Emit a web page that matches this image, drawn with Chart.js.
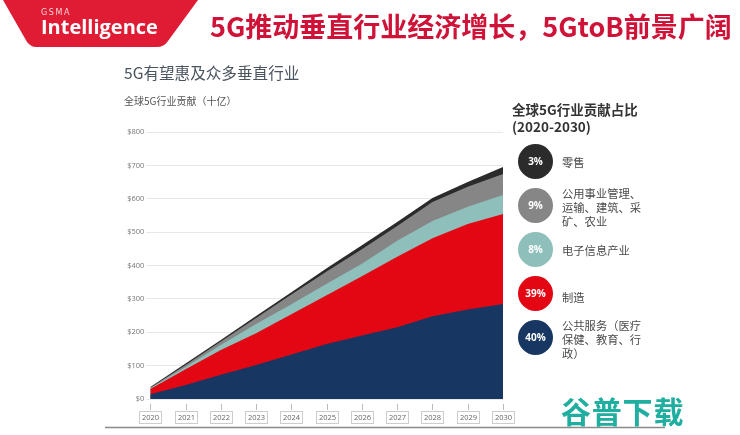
<!DOCTYPE html>
<html><head><meta charset="utf-8">
<script src="https://cdn.jsdelivr.net/npm/chart.js@4/dist/chart.umd.min.js"></script>
<style>
html,body{margin:0;padding:0;background:#fff;width:740px;height:435px;overflow:hidden}
body{font-family:"Noto Sans CJK SC","Noto Sans",sans-serif;position:relative}
canvas{position:absolute;left:0;top:0}
.t{position:absolute;white-space:nowrap}
.c{position:absolute;left:518px;width:35px;height:35px;border-radius:50%;color:#fff;font:bold 10px "Open Sans",sans-serif;text-align:center;line-height:35px}
.l{position:absolute;left:562px;width:92px;font-size:11.3px;line-height:14px;color:#4a4a4a;white-space:pre-line}
</style></head><body>
<canvas id="c" width="740" height="435"></canvas>
<svg style="position:absolute;left:0;top:0" width="210" height="50"><path d="M3 0H198L168 41Q164 47 157 47H36Q31 47 27 42Z" fill="#e01b34"/></svg>
<div class="t" style="left:41px;top:8px;font:8px 'DejaVu Sans',sans-serif;color:#f6d5d8;letter-spacing:1.6px">GSMA</div>
<div class="t" style="left:41px;top:13px;font:bold 20px 'Open Sans',sans-serif;color:#fff">Intelligence</div>
<div class="t" style="left:210px;top:9px;font:bold 27px/34px 'Noto Sans CJK SC';color:#cf1237">5G推动垂直行业经济增长，5GtoB前景广阔</div>
<div class="t" style="left:124px;top:62px;font-size:15.6px;line-height:20px;color:#4b5560">5G有望惠及众多垂直行业</div>
<div class="t" style="left:124px;top:94px;font-size:10px;line-height:14px;color:#555">全球5G行业贡献（十亿）</div>
<div class="t" style="left:512px;top:101px;font-weight:bold;font-size:13.5px;line-height:17px;color:#333">全球5G行业贡献占比<br>(2020-2030)</div>
<div id="lg"></div>
<div class="t" style="left:561px;top:392px;font:bold 30px/36px 'Noto Sans CJK SC';color:#1fae9f;letter-spacing:.8px">谷普下载</div>
<script>
const years = ['2020','2021','2022','2023','2024','2025','2026','2027','2028','2029','2030'];
const yTicks = [0,100,200,300,400,500,600,700,800];
const publicServices = [14,42,73,102,133,165,190,215,248,268,285];
const manufacturing  = [16,47,74,95,121,146,178,211,234,256,269];
const electronics    = [2,7,15,28,30,34,37,48,51,52,57];
const utilities      = [2,6,10,18,29,37,44,44,57,60,63];
const retail         = [2,4,5,6,7,10,12,12,12,14,21];
const shareLabels = ['3%','9%','8%','39%','40%'];
const shareNames = ['零售','公用事业管理、\n运输、建筑、采\n矿、农业','电子信息产业','制造','公共服务（医疗\n保健、教育、行\n政）'];
const shareColors = ['#2b2b2b','#868686','#8fbfba','#e30613','#173762'];
const circleTops = [144,188,232,276,320];
const labelTops = [155,186,243,290,318];

const lg = document.getElementById('lg');
shareLabels.forEach((s,i)=>{
  const c=document.createElement('div');c.className='c';c.textContent=s;
  c.style.top=circleTops[i]+'px';c.style.background=shareColors[i];lg.appendChild(c);
  const l=document.createElement('div');l.className='l';l.textContent=shareNames[i];
  l.style.top=labelTops[i]+'px';lg.appendChild(l);
});
const mk=(label,data,color)=>({label,data,backgroundColor:color,borderColor:color,borderWidth:0,fill:true,pointRadius:0,tension:0});
const decor={id:'decor',afterDraw(ch){
  const g=ch.ctx,x=ch.scales.x,b=ch.chartArea.bottom;
  g.save();
  g.font='7.5px "Open Sans",sans-serif';g.textAlign='center';g.textBaseline='middle';
  years.forEach((y,i)=>{
    const p=Math.round(x.getPixelForValue(i));
    g.strokeStyle='#bbb';g.lineWidth=1;
    g.beginPath();g.moveTo(p+.5,b+5);g.lineTo(p+.5,b+11);g.stroke();
    g.strokeStyle='#ccc';g.strokeRect(p-10.5,411.5,22,12);
    g.fillStyle='#666';g.fillText(y,p+.5,418);
  });
  g.strokeStyle='#8a8a8a';g.lineWidth=1.5;
  g.beginPath();g.moveTo(105,427.5);g.lineTo(665,427.5);g.stroke();
  g.restore();
}};
new Chart(document.getElementById('c'),{
  type:'line',
  data:{labels:years,datasets:[
    mk('公共服务',publicServices,shareColors[4]),
    mk('制造',manufacturing,shareColors[3]),
    mk('电子信息产业',electronics,shareColors[2]),
    mk('公用事业管理',utilities,shareColors[1]),
    mk('零售',retail,shareColors[0])
  ]},
  plugins:[decor],
  options:{
    responsive:false,animation:false,
    layout:{padding:{left:0,right:237,top:132,bottom:0}},
    plugins:{legend:{display:false},tooltip:{enabled:false}},
    scales:{
      x:{offset:false,grid:{display:false},border:{display:false},ticks:{display:false},
         afterFit(s){s.height=36;}},
      y:{stacked:true,min:0,max:800,afterBuildTicks(s){s.ticks=yTicks.map(v=>({value:v}));},
         afterFit(s){s.width=150.3;},
         grid:{color:'#e8e8e8',lineWidth:1,tickLength:4,tickColor:'#e8e8e8'},border:{display:false},
         ticks:{padding:2,color:'#777',font:{size:7.5,family:'"Open Sans",sans-serif'},callback:v=>'$'+v}}
    }
  }
});
</script>
</body></html>
